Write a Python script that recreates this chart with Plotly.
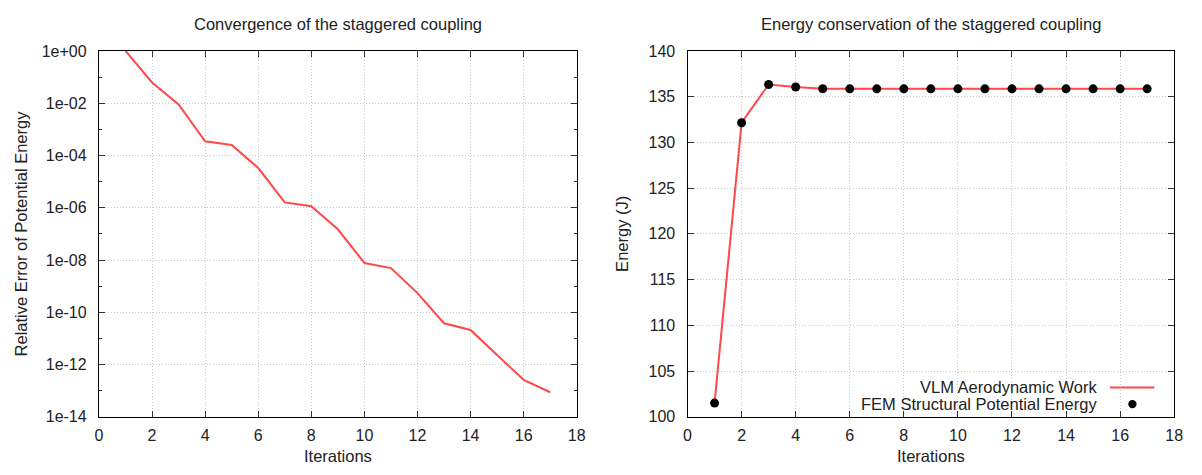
import plotly.graph_objects as go

# ---------------- data ----------------
iterations = list(range(1, 18))
rel_error = [1.0, 6.2e-2, 9.0e-3, 3.5e-4, 2.5e-4, 3.3e-5, 1.6e-6, 1.15e-6, 1.5e-7,
             7.7e-9, 4.9e-9, 5.4e-10, 3.8e-11, 2.1e-11, 2.3e-12, 2.6e-13, 8.7e-14]
vlm_work = [101.5, 132.15, 136.33, 136.05, 135.86, 135.85, 135.85, 135.85, 135.85,
            135.85, 135.85, 135.85, 135.85, 135.85, 135.85, 135.85, 135.85]
fem_energy = [101.5, 132.15, 136.33, 136.05, 135.86, 135.85, 135.85, 135.85, 135.85,
              135.85, 135.85, 135.85, 135.85, 135.85, 135.85, 135.85, 135.85]

x_ticks = [0, 2, 4, 6, 8, 10, 12, 14, 16, 18]
log_tickvals = [1e0, 1e-2, 1e-4, 1e-6, 1e-8, 1e-10, 1e-12, 1e-14]
log_ticktext = ["1e+00", "1e-02", "1e-04", "1e-06", "1e-08", "1e-10", "1e-12", "1e-14"]
log_minorvals = [1e-1, 1e-3, 1e-5, 1e-7, 1e-9, 1e-11, 1e-13]
energy_ticks = [100, 105, 110, 115, 120, 125, 130, 135, 140]

title_left = "Convergence of the staggered coupling"
title_right = "Energy conservation of the staggered coupling"
xlabel = "Iterations"
ylabel_left = "Relative Error of Potential Energy"
ylabel_right = "Energy (J)"
legend_names = ["VLM Aerodynamic Work", "FEM Structural Potential Energy"]

RED = "#ff4848"
FONT = "Liberation Sans, Arial, sans-serif"
W, H = 1202, 475

def px(x):
    return x / W

def py(y):
    return 1 - y / H

fig = go.Figure()

fig.add_trace(go.Scatter(x=iterations, y=rel_error, mode="lines",
                         line=dict(color=RED, width=2), xaxis="x", yaxis="y",
                         showlegend=False))
fig.add_trace(go.Scatter(x=iterations, y=vlm_work, mode="lines",
                         line=dict(color=RED, width=2), xaxis="x2", yaxis="y2",
                         name=legend_names[0], showlegend=False))
fig.add_trace(go.Scatter(x=iterations, y=fem_energy, mode="markers",
                         marker=dict(color="black", size=9), xaxis="x2", yaxis="y2",
                         name=legend_names[1], showlegend=False))

common = dict(showline=True, linecolor="black", linewidth=1.2, mirror="allticks",
              ticks="inside", ticklen=6, tickcolor="#333", tickwidth=1,
              showgrid=True, gridcolor="#c8c8c8", griddash="1px,2px", gridwidth=1,
              zeroline=False, tickfont=dict(family=FONT, size=16, color="#222"))

fig.update_layout(
    width=W, height=H, margin=dict(l=0, r=0, t=0, b=0),
    paper_bgcolor="white", plot_bgcolor="white", showlegend=False,
    xaxis=dict(domain=[px(96), px(579)], range=[0, 18], tickvals=x_ticks,
               anchor="y", ticklabelstandoff=4, **common),
    yaxis=dict(domain=[py(424), py(44.5)], type="log", range=[-14, 0],
               tickvals=log_tickvals, ticktext=log_ticktext, anchor="x",
               ticklabelstandoff=8,
               minor=dict(tickvals=log_minorvals, ticks="inside", ticklen=3,
                          tickcolor="#333", showgrid=False),
               **common),
    xaxis2=dict(domain=[px(691), px(1183)], range=[0, 18], tickvals=x_ticks,
                anchor="y2", ticklabelstandoff=4, **common),
    yaxis2=dict(domain=[py(424), py(44.5)], range=[100, 140], tickvals=energy_ticks,
                anchor="x2", ticklabelstandoff=8, **common),
)

tfont = dict(family=FONT, size=16.5, color="#222")
ann = [
    dict(text=title_left, x=px(337.5), y=py(17)),
    dict(text=title_right, x=px(937), y=py(17)),
    dict(text=xlabel, x=px(337.5), y=py(465)),
    dict(text=xlabel, x=px(937), y=py(465)),
    dict(text=ylabel_left, x=px(17), y=py(234), textangle=-90),
    dict(text=ylabel_right, x=px(624), y=py(234), textangle=-90),
]
for a in ann:
    fig.add_annotation(xref="paper", yref="paper", showarrow=False,
                       xanchor="center", yanchor="middle", font=tfont, **a)

# manual legend (text right-aligned, sample to the right)
fig.add_annotation(xref="paper", yref="paper", showarrow=False, text=legend_names[0],
                   x=px(1107), y=py(393.5), xanchor="right", yanchor="middle", font=tfont)
fig.add_annotation(xref="paper", yref="paper", showarrow=False, text=legend_names[1],
                   x=px(1107), y=py(410.5), xanchor="right", yanchor="middle", font=tfont)
fig.add_shape(type="line", xref="paper", yref="paper",
              x0=px(1118), x1=px(1163), y0=py(393.7), y1=py(393.7),
              line=dict(color=RED, width=2))
fig.add_shape(type="circle", xref="paper", yref="paper",
              x0=px(1136.5), x1=px(1145), y0=py(406.5), y1=py(415),
              fillcolor="black", line=dict(color="black", width=0))

fig.write_html("out.html")
